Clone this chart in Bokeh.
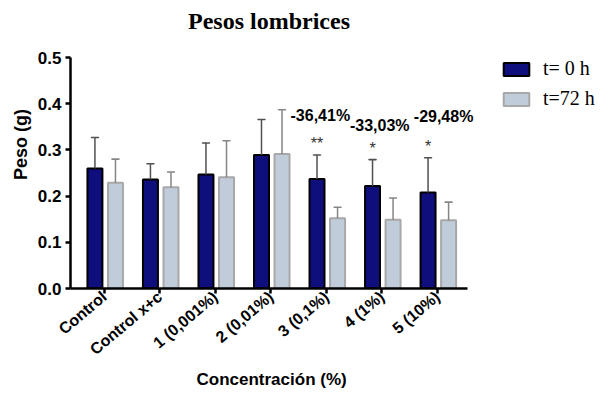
from bokeh.plotting import figure
from bokeh.models import ColumnDataSource, FixedTicker, Legend, LegendItem, Title
from bokeh.core.properties import value
from bokeh.embed import file_html
from bokeh.resources import INLINE

categories = ["Control", "Control x+c", "1 (0,001%)", "2 (0,01%)", "3 (0,1%)", "4 (1%)", "5 (10%)"]
t0_mean = [0.260, 0.236, 0.247, 0.289, 0.237, 0.222, 0.208]
t0_upper = [0.327, 0.270, 0.315, 0.366, 0.289, 0.279, 0.283]
t72_mean = [0.229, 0.219, 0.241, 0.291, 0.152, 0.149, 0.148]
t72_upper = [0.280, 0.252, 0.320, 0.387, 0.176, 0.196, 0.187]
stars = ["", "", "", "", "**", "*", "*"]
pct_labels = ["-36,41%", "-33,03%", "-29,48%"]
series_names = ["t= 0 h", "t=72 h"]
title_text = "Pesos lombrices"

# annotation placement (group position + shift, height in g)
pct_x = [4 - 0.11, 5 - 0.04, 6 + 0.11]
pct_y = [0.374, 0.352, 0.372]
AXIS_X = (-0.61, 6.54)
AXIS_Y = (0, 0.5)
title_pos = (2.965, 0.58)

DARK_FILL, DARK_LINE = "#0e0e7c", "black"
GRAY_FILL, GRAY_LINE = "#c0ccd9", "#a8a8a8"

off0, off1 = -0.17, 0.2
xs = list(range(len(categories)))
src0 = ColumnDataSource(dict(x=[i + off0 for i in xs], top=t0_mean, upper=t0_upper, star=stars,
                             star_y=[u + 0.006 for u in t0_upper]))
src1 = ColumnDataSource(dict(x=[i + off1 for i in xs], top=t72_mean, upper=t72_upper))

p = figure(width=598, height=392, output_backend="svg", toolbar_location=None,
           x_range=(-0.61, 8.90), y_range=(0, 0.6234),
           min_border_left=70, min_border_right=0, min_border_top=0, min_border_bottom=104)
p.outline_line_color = None
p.grid.grid_line_color = None

r0 = p.vbar(x="x", top="top", width=0.27, source=src0, fill_color=DARK_FILL,
            line_color=DARK_LINE, line_width=2)
r1 = p.vbar(x="x", top="top", width=0.27, source=src1, fill_color=GRAY_FILL,
            line_color=GRAY_LINE, line_width=2)

p.segment(x0="x", x1="x", y0="top", y1="upper", source=src0, line_color="#505050", line_width=1.5)
p.segment(x0="x", x1="x", y0="top", y1="upper", source=src1, line_color="#858585", line_width=1.5)
p.rect(x="x", y="upper", width=0.13, height=0.0001, source=src0, line_color="#505050", line_width=1.5)
p.rect(x="x", y="upper", width=0.13, height=0.0001, source=src1, line_color="#858585", line_width=1.5)

p.text(x="x", y="star_y", text="star", source=src0, text_align="center", text_baseline="bottom",
       text_font=value("Liberation Sans"), text_font_size="16px", text_color="#333333")
p.text(x=pct_x, y=pct_y, text=pct_labels, text_align="center",
       text_baseline="middle", text_font=value("Liberation Sans"), text_font_style="bold",
       text_font_size="16px", text_color="black")
p.text(x=[title_pos[0]], y=[title_pos[1]], text=[title_text], text_align="center",
       text_baseline="middle", text_font=value("Liberation Serif"), text_font_style="bold",
       text_font_size="24px", text_color="black")

p.xaxis.ticker = FixedTicker(ticks=xs)
p.xaxis.bounds = AXIS_X
p.xaxis.major_label_overrides = {i: c for i, c in enumerate(categories)}
p.xaxis.major_label_orientation = 0.7
p.yaxis.bounds = AXIS_Y
p.yaxis.ticker = FixedTicker(ticks=[0, 0.1, 0.2, 0.3, 0.4, 0.5])
p.yaxis.major_label_overrides = {0: "0.0", 0.1: "0.1", 0.2: "0.2", 0.3: "0.3", 0.4: "0.4", 0.5: "0.5"}
for ax in (p.xaxis, p.yaxis):
    ax.axis_line_width = 2.5
    ax.axis_line_color = "black"
    ax.major_tick_line_width = 2.5
    ax.major_tick_line_color = "black"
    ax.major_tick_out = 5
    ax.major_tick_in = 0
    ax.minor_tick_line_color = None
    ax.major_label_text_font = "Liberation Sans"
    ax.major_label_text_font_style = "bold"
    ax.major_label_text_color = "black"
p.xaxis.major_label_text_font_size = "16px"
p.yaxis.major_label_text_font_size = "17px"
p.xaxis.major_label_standoff = 1
p.yaxis.major_label_standoff = 4

ytitle = Title(text="Peso (g)", align="center", offset=-28, standoff=8,
               text_font="Liberation Sans", text_font_style="bold",
               text_font_size="18px", text_color="black")
p.add_layout(ytitle, "left")

xtitle = Title(text="Concentración (%)", align="left", offset=126, standoff=0,
               text_font="Liberation Sans", text_font_style="bold",
               text_font_size="17px", text_color="black")
p.add_layout(xtitle, "below")

legend = Legend(items=[LegendItem(label=series_names[0], renderers=[r0]),
                       LegendItem(label=series_names[1], renderers=[r1])],
                location=(430, 178), glyph_width=32, glyph_height=16, spacing=7,
                label_standoff=11, label_text_font="Liberation Serif",
                label_text_font_size="20px", label_text_color="black",
                border_line_color=None, background_fill_alpha=0, padding=0, margin=0)
p.add_layout(legend, "center")

open("out.html", "w").write(file_html(p, INLINE))
